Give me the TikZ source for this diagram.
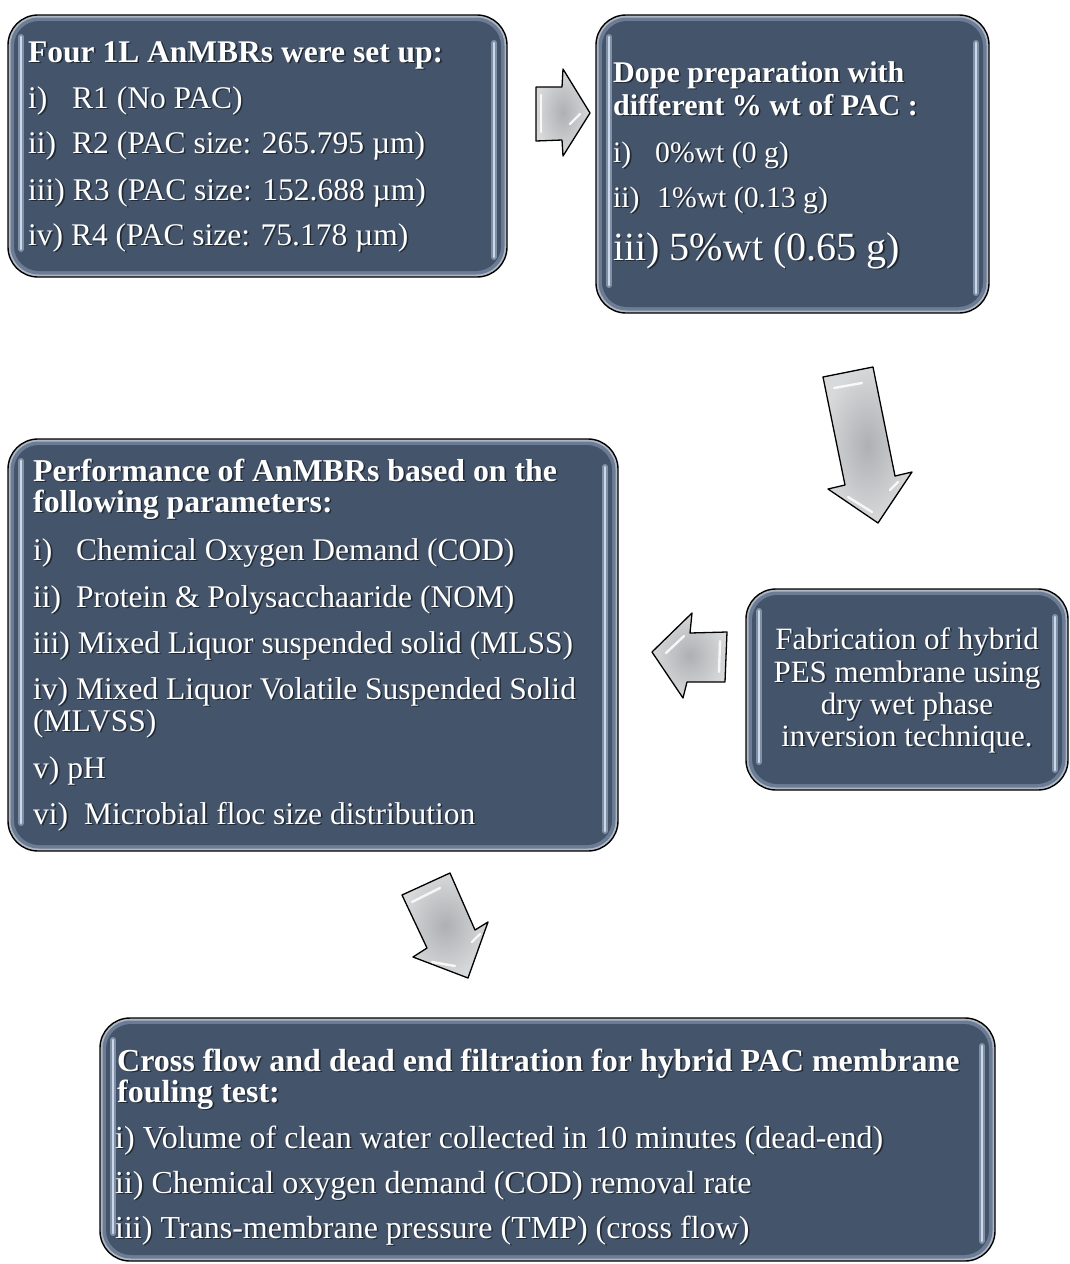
\documentclass[tikz,border=0pt]{standalone}
\usepackage{fontspec}
\setmainfont{Liberation Serif}
\usetikzlibrary{calc,fit}
\definecolor{slate}{HTML}{44546A}
\definecolor{slateedge}{HTML}{6C7C94}
\definecolor{slatehl}{HTML}{CCD9EC}
\definecolor{arrowgray}{HTML}{BDBFC2}

\tikzset{
  txt/.style={anchor=base west, inner sep=0pt, text=white, font=\fontsize{31.5}{34}\selectfont},
  ttl/.style={txt, font=\bfseries\fontsize{31.5}{34}\selectfont},
  ctxt/.style={txt, anchor=base, font=\fontsize{31}{34}\selectfont},
  blockarrow/.style={draw=black, line width=1.3pt, line join=round, shading=radial, inner color=arrowgray!92!black, outer color=arrowgray!60!white},
  gloss/.style={white, line width=2.4pt, line cap=round, opacity=.85},
}

\newcommand\slatebox[5]{%
  \path[fill=slateedge!55!white, draw=black, line width=1.4pt, rounded corners=30pt] (#2,#3) rectangle (#4,#5);
  \path[fill=slateedge, rounded corners=28pt] ({#2+2.5},{#3+2.5}) rectangle ({#4-2.5},{#5-2.5});
  \path[fill=slate, rounded corners=25pt] ({#2+6},{#3+6}) rectangle ({#4-6},{#5-6});
  \draw[slatehl!45!slate, line width=6pt, line cap=round] ({#2+13},{#3+22}) -- ({#2+13},{#5-28});
  \draw[slatehl, line width=2.2pt, line cap=round] ({#2+13},{#3+22}) -- ({#2+13},{#5-28});
  \draw[slatehl!45!slate, line width=6pt, line cap=round] ({#4-13},{#3+28}) -- ({#4-13},{#5-20});
  \draw[slatehl, line width=2.2pt, line cap=round] ({#4-13},{#3+28}) -- ({#4-13},{#5-20});
  \node[fit={(#2,#3) (#4,#5)}, inner sep=0pt] (#1) {};
}
\newcommand\shtext[5]{%
  \node[#4, text=black, text opacity=.5] (#1s) at ({#2+1.6},{#3+1.6}) {#5};
  \node[#4] (#1) at (#2,#3) {#5};
}

\begin{document}
\begin{tikzpicture}[x=1pt,y=-1pt]
\useasboundingbox[fill=white] (0,0) rectangle (1070,1264);

% ---------------- boxes
\slatebox{setup}{8}{15}{507}{277}
\slatebox{dope}{596}{15}{989}{313}
\slatebox{perf}{8}{439}{618}{851}
\slatebox{fab}{746}{589}{1068}{790}
\slatebox{test}{100}{1018}{995}{1261}

% ---------------- box 1
\shtext{s0}{28}{62}{ttl}{Four 1L AnMBRs were set up:}
\shtext{s1}{28}{108}{txt}{\makebox[44pt][l]{i)}R1 (No PAC)}
\shtext{s2}{28}{153}{txt}{\makebox[44pt][l]{ii)}R2 (PAC size: 265.795 µm)}
\shtext{s3}{28}{200}{txt}{iii) R3 (PAC size: 152.688 µm)}
\shtext{s4}{28}{245}{txt}{iv) R4 (PAC size: 75.178 µm)}

% ---------------- box 2
\shtext{d0}{613}{82}{ttl,font=\bfseries\fontsize{30}{33}\selectfont}{Dope preparation with}
\shtext{d1}{613}{115}{ttl,font=\bfseries\fontsize{30}{33}\selectfont}{different \% wt of PAC :}
\shtext{d2}{613}{162}{txt,font=\fontsize{29.7}{33}\selectfont}{\makebox[42pt][l]{i)}0\%wt (0 g)}
\shtext{d3}{613}{207}{txt,font=\fontsize{29.7}{33}\selectfont}{\makebox[44pt][l]{ii)}1\%wt (0.13 g)}
\shtext{d4}{613}{260}{txt,font=\fontsize{40}{44}\selectfont}{iii) 5\%wt (0.65 g)}

% ---------------- box 3 (performance)
\shtext{p0}{33}{481}{ttl,font=\bfseries\fontsize{31.8}{34}\selectfont}{Performance of AnMBRs based on the}
\shtext{p1}{33}{512}{ttl,font=\bfseries\fontsize{31.8}{34}\selectfont}{following parameters:}
\shtext{p2}{33}{560}{txt}{\makebox[43pt][l]{i)}Chemical Oxygen Demand (COD)}
\shtext{p3}{33}{607}{txt}{\makebox[43pt][l]{ii)}Protein \& Polysacchaaride (NOM)}
\shtext{p4}{33}{653}{txt}{iii) Mixed Liquor suspended solid (MLSS)}
\shtext{p5}{33}{699}{txt}{iv) Mixed Liquor Volatile Suspended Solid}
\shtext{p6}{33}{731}{txt}{(MLVSS)}
\shtext{p7}{33}{778}{txt}{v) pH}
\shtext{p8}{33}{824}{txt}{\makebox[51pt][l]{vi)}Microbial floc size distribution}

% ---------------- box 4 (fabrication)
\shtext{f0}{907}{649}{ctxt}{Fabrication of hybrid}
\shtext{f1}{907}{682}{ctxt}{PES membrane using}
\shtext{f2}{907}{714}{ctxt}{dry wet phase}
\shtext{f3}{907}{746}{ctxt}{inversion technique.}

% ---------------- box 5 (test)
\shtext{t0}{117}{1071}{ttl,font=\bfseries\fontsize{32}{34}\selectfont}{Cross flow and dead end filtration for hybrid PAC membrane}
\shtext{t1}{117}{1102}{ttl,font=\bfseries\fontsize{32}{34}\selectfont}{fouling test:}
\shtext{t2}{115}{1148}{txt,font=\fontsize{32}{34}\selectfont}{i) Volume of clean water collected in 10 minutes (dead-end)}
\shtext{t3}{115}{1193}{txt,font=\fontsize{32}{34}\selectfont}{ii) Chemical oxygen demand (COD) removal rate}
\shtext{t4}{115}{1238}{txt,font=\fontsize{32}{34}\selectfont}{iii) Trans-membrane pressure (TMP) (cross flow)}

% ---------------- block arrows
% setup -> dope
\path[blockarrow] (536,87) -- (562,87) -- (563,69) -- (590,113) -- (563,156) -- (562,140) -- (536,141) -- cycle;
\draw[gloss] (541,95) -- (541,132);
\draw[gloss] (570,124) -- (580,114);
% dope -> fab
\path[blockarrow] (823,377) -- (873,367) -- (895,476) -- (912,472) -- (878,523) -- (828,489) -- (845,485) -- cycle;
\draw[gloss] (834,388) -- (862,383);
\draw[gloss] (848,497) -- (872,512);
\draw[gloss] (890,490) -- (898,482);
% fab -> perf
\path[blockarrow] (652,652) -- (692,613) -- (690,633) -- (727,632) -- (725,682) -- (687,682) -- (683,698) -- cycle;
\draw[gloss] (720,641) -- (719,672);
\draw[gloss] (666,653) -- (684,636);
% perf -> test
\path[blockarrow] (402,895) -- (450,873) -- (475,930) -- (488,922) -- (468,978) -- (413,957) -- (427,948) -- cycle;
\draw[gloss] (412,902) -- (440,888);
\draw[gloss] (432,962) -- (455,966);
\draw[gloss] (472,942) -- (480,934);
\end{tikzpicture}
\end{document}
